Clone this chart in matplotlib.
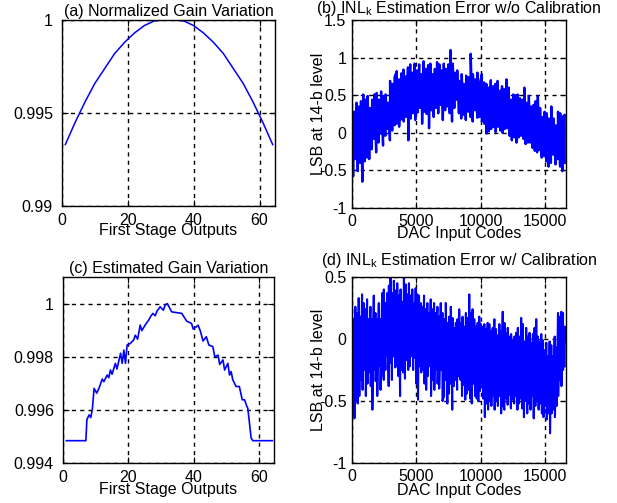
import numpy as np
import matplotlib
matplotlib.use("Agg")
import matplotlib.pyplot as plt
from matplotlib.ticker import FormatStrFormatter

plt.rcParams['font.family'] = ['Liberation Sans', 'DejaVu Sans']
plt.rcParams['mathtext.default'] = 'regular'
plt.rcParams['axes.unicode_minus'] = False

# (a) normalized gain vs first stage output
gain_a_x = [1, 4, 7, 10, 13, 16, 19, 22, 25, 28, 31, 34, 37, 40, 43, 46, 49, 52, 55, 58, 61, 64]
gain_a = [0.9933, 0.9945, 0.9956, 0.9966, 0.9974, 0.9982, 0.9988, 0.9993, 0.9997, 0.99995, 1.0,
          1.0, 0.99995, 0.9997, 0.9993, 0.9988, 0.9982, 0.9974, 0.9966, 0.9956, 0.9945, 0.9933]

# (c) estimated gain
gain_c_x = [1, 7, 7.3, 8, 8.5, 9, 9.5, 10.3, 11, 12, 12.5, 13.5, 14, 14.5, 15, 16, 16.5, 17.6, 18.1,
            18.6, 19.1, 19.6, 20.6, 21.6, 22.1, 22.8, 23.6, 24.1, 25.1, 26.2, 26.9, 27.5, 28.2, 28.7,
            29.7, 30.2, 30.7, 31.2, 31.9, 33.2, 34.7, 36.3, 37.8, 39.3, 39.8, 40.8, 41.3, 42, 42.8,
            43.8, 44.6, 45.8, 46.4, 47.4, 47.9, 48.9, 49.4, 50.4, 50.9, 51.4, 51.9, 52.9, 53.9, 54.8,
            55.5, 56.2, 56.5, 57.5, 58, 64]
gain_c = [0.99484, 0.99484, 0.99563, 0.99581, 0.99571, 0.99606, 0.99681, 0.99663, 0.99681, 0.99716,
          0.99706, 0.99731, 0.99721, 0.9975, 0.99734, 0.99775, 0.99754, 0.99813, 0.99775, 0.99825,
          0.99775, 0.99844, 0.9985, 0.99863, 0.99881, 0.99866, 0.99919, 0.99898, 0.99919, 0.99938,
          0.99954, 0.99963, 0.99954, 0.99971, 0.99988, 0.99981, 0.99975, 0.99994, 1.0, 0.99969,
          0.99966, 0.99963, 0.99934, 0.99925, 0.99904, 0.99913, 0.99919, 0.99896, 0.99859, 0.99875,
          0.99844, 0.99838, 0.998, 0.99806, 0.99771, 0.99788, 0.9975, 0.99775, 0.99731, 0.99744,
          0.99713, 0.99688, 0.99688, 0.99638, 0.99638, 0.99613, 0.99606, 0.99494, 0.99484, 0.99484]

# (b) INL error w/o calibration: spike tops and bottoms read left to right
inl_b_upper = [0.30, 0.28, 0.40, 0.35, 0.42, 0.51, 0.44, 0.49, 0.33, 0.44, 0.51, 0.53, 0.44, 0.55,
               0.49, 0.51, 0.40, 0.69, 0.65, 0.74, 0.82, 0.71, 0.79, 0.84, 0.75, 0.87, 0.91, 0.80,
               0.92, 0.83, 0.91, 0.78, 0.95, 0.85, 0.90, 0.92, 0.78, 0.85, 0.94, 0.91, 0.83, 0.92,
               0.85, 0.91, 1.10, 0.92, 0.80,
               0.83, 0.69, 0.78, 0.65, 0.76, 0.74, 1.05, 0.78, 0.71, 0.80, 0.65, 0.78, 0.67, 0.65,
               0.60, 0.70, 0.62, 0.65, 0.69, 0.56, 0.62, 0.58, 0.71, 0.60, 0.44, 0.51, 0.50, 0.51,
               0.46, 0.44, 0.60, 0.40, 0.49, 0.35, 0.37, 0.42, 0.49, 0.33, 0.21, 0.28, 0.26, 0.19,
               0.35, 0.19, 0.10, 0.28, 0.26, 0.21, 0.24]
inl_b_lower = [-0.58, -0.35, -0.51, -0.40, -0.65, -0.38, -0.33, -0.35, -0.22, -0.08, -0.26, -0.13,
               -0.01, -0.17, -0.04, 0.05, -0.10, 0.03, 0.10, 0.12, 0.08, 0.18, 0.15, 0.21, -0.10,
               0.19, 0.26, 0.17, 0.27, 0.33, 0.12, 0.28, 0.25, 0.06, 0.30, 0.21, 0.33, 0.26, 0.37,
               0.17, 0.30, 0.35, 0.26, 0.15, 0.33, 0.44, 0.26,
               0.19, 0.24, 0.17, 0.28, 0.21, 0.15, 0.30, 0.20, 0.21, 0.15, 0.12, -0.01, 0.02, 0.05,
               0.08, 0.01, 0.08, 0.03, 0.00, 0.05, 0.06, -0.04, -0.10, -0.06, -0.13, -0.06, -0.04,
               -0.08, -0.15, -0.13, -0.13, -0.20, -0.24, -0.26, -0.23, -0.33, -0.31, -0.38, -0.45,
               -0.40, -0.29, -0.42, -0.35, -0.45, -0.51, -0.40]

# (d) INL error w/ calibration
inl_d_upper = [0.32, 0.16, 0.26, 0.21, 0.33, 0.18, 0.36, 0.29, 0.24, 0.32, 0.16, 0.26, 0.16, 0.35,
               0.21, 0.16, 0.29, 0.16, 0.37, 0.40, 0.29, 0.37, 0.43, 0.51, 0.37, 0.47, 0.39, 0.45,
               0.35, 0.40, 0.30, 0.51, 0.44, 0.36, 0.45, 0.35, 0.40, 0.29, 0.41, 0.36, 0.35, 0.29,
               0.26, 0.35, 0.24, 0.29, 0.21, 0.32, 0.24, 0.29, 0.21, 0.26, 0.18, 0.29, 0.21, 0.16,
               0.29, 0.13, 0.18, 0.26, 0.17, 0.09, 0.13,
               0.16, 0.24, 0.13, 0.18, 0.10, 0.21, 0.17, 0.36, 0.21, 0.24, 0.16, 0.10, 0.13, 0.18,
               0.12, 0.10, 0.12, 0.08, 0.13, 0.12, 0.06, 0.09, 0.16, 0.08, 0.03, 0.12, 0.06, 0.22,
               0.13, 0.05, 0.09, 0.02, 0.04, -0.01, 0.02, 0.05, 0.09, 0.02, 0.17, 0.12, -0.02, 0.09,
               0.02, 0.05, -0.03, 0.04, 0.09, 0.16, 0.02, -0.02, 0.04, -0.01, -0.09, -0.03, -0.14,
               -0.02, -0.05, -0.14, 0.02, -0.07, 0.21, 0.18, 0.22, 0.21, 0.10]
inl_d_lower = [-0.58, -0.64, -0.50, -0.52, -0.46, -0.33, -0.41, -0.25, -0.46, -0.36, -0.27, -0.38,
               -0.57, -0.25, -0.34, -0.46, -0.22, -0.41, -0.17, -0.33, -0.25, -0.14, -0.38, -0.19,
               -0.33, -0.14, -0.23, -0.22, -0.30, -0.46, -0.25, -0.27, -0.32, -0.17, -0.25, -0.22,
               -0.14, -0.25, -0.15, -0.36, -0.49, -0.22, -0.27, -0.25, -0.36, -0.41, -0.30, -0.22,
               -0.46, -0.33, -0.41, -0.25, -0.36, -0.40, -0.25, -0.50, -0.46, -0.33, -0.52, -0.44,
               -0.36, -0.57, -0.38, -0.33, -0.41, -0.30,
               -0.33, -0.46, -0.37, -0.49, -0.44, -0.41, -0.48, -0.52, -0.36, -0.46, -0.48, -0.50,
               -0.42, -0.36, -0.48, -0.63, -0.52, -0.57, -0.50, -0.54, -0.46, -0.57, -0.50, -0.54,
               -0.46, -0.60, -0.52, -0.57, -0.48, -0.53, -0.45, -0.56, -0.49, -0.52, -0.46, -0.57,
               -0.52, -0.48, -0.56, -0.63, -0.50, -0.60, -0.52, -0.57, -0.46, -0.64, -0.54, -0.49,
               -0.57, -0.52, -0.60, -0.63, -0.54, -0.65, -0.60, -0.76, -0.60, -0.57, -0.63, -0.54,
               -0.46, -0.33, -0.38, -0.25, -0.22]

n_codes = 16500
fs = 11.5


def zigzag(upper, lower, xmax):
    # interleave spike tops and bottoms along the code axis
    xu = np.linspace(0, xmax, len(upper))
    xl = np.linspace(xmax / (2 * len(lower)), xmax, len(lower))
    x = np.concatenate([xu, xl])
    y = np.concatenate([upper, lower])
    order = np.argsort(x, kind='stable')
    return x[order], y[order]


def style(ax, xpad, ypad):
    ax.tick_params(direction='in', length=4, width=0.8, top=True, right=True,
                   labelsize=fs, colors='black')
    ax.tick_params(axis='x', pad=xpad)
    ax.tick_params(axis='y', pad=ypad)
    ax.grid(True, color='black', linestyle=(0, (3, 3)), linewidth=1.0)
    ax.set_axisbelow(True)
    for s in ax.spines.values():
        s.set_linewidth(1.0)


fig = plt.figure(figsize=(6.17, 5.03), dpi=100)
W, H = 617.0, 503.0


def add_axes(l, t, r, b):
    return fig.add_axes([l / W, 1 - b / H, (r - l) / W, (b - t) / H])


ax_a = add_axes(62, 20, 275, 206)
ax_b = add_axes(352, 20, 566, 208)
ax_c = add_axes(63, 277, 274, 463)
ax_d = add_axes(352, 277, 566, 463)

# (a)
ax_a.plot(gain_a_x, gain_a, color='blue', linewidth=1.1)
ax_a.set_xlim(0, 64.7)
ax_a.set_ylim(0.99, 1.0)
ax_a.set_xticks([0, 20, 40, 60])
ax_a.set_yticks([0.99, 0.995, 1.0])
ax_a.yaxis.set_major_formatter(FormatStrFormatter('%g'))
style(ax_a, 5, 6.5)
ax_a.text(0.5, 1.0215, '(a) Normalized Gain Variation', transform=ax_a.transAxes,
          ha='center', va='baseline', fontsize=fs)
ax_a.set_xlabel('First Stage Outputs', fontsize=fs, va='center')
ax_a.xaxis.set_label_coords(0.5, -0.134)

# (b)
xb, yb = zigzag(inl_b_upper, inl_b_lower, n_codes)
ax_b.plot(xb, yb, color='blue', linewidth=1.7)
ax_b.set_xlim(0, 16600)
ax_b.set_ylim(-1, 1.5)
ax_b.set_xticks([0, 5000, 10000, 15000])
ax_b.set_yticks([-1, -0.5, 0, 0.5, 1, 1.5])
ax_b.yaxis.set_major_formatter(FormatStrFormatter('%g'))
style(ax_b, 4, 4)
ax_b.text(0.5, 1.036, '(b) INL$_k$ Estimation Error w/o Calibration', transform=ax_b.transAxes,
          ha='center', va='baseline', fontsize=fs)
ax_b.set_xlabel('DAC Input Codes', fontsize=fs, va='center')
ax_b.xaxis.set_label_coords(0.5, -0.136)
ax_b.set_ylabel('LSB at 14-b level', fontsize=fs, va='center')
ax_b.yaxis.set_label_coords(-0.157, 0.5)

# (c)
ax_c.plot(gain_c_x, gain_c, color='blue', linewidth=1.2)
ax_c.set_xlim(0, 64.5)
ax_c.set_ylim(0.994, 1.001)
ax_c.set_xticks([0, 20, 40, 60])
ax_c.set_yticks([0.994, 0.996, 0.998, 1.0])
ax_c.yaxis.set_major_formatter(FormatStrFormatter('%g'))
style(ax_c, 5, 6.5)
ax_c.text(0.5, 1.0215, '(c) Estimated Gain Variation', transform=ax_c.transAxes,
          ha='center', va='baseline', fontsize=fs)
ax_c.set_xlabel('First Stage Outputs', fontsize=fs, va='center')
ax_c.xaxis.set_label_coords(0.5, -0.141)

# (d)
xd, yd = zigzag(inl_d_upper, inl_d_lower, n_codes)
ax_d.plot(xd, yd, color='blue', linewidth=1.5)
ax_d.set_xlim(0, 16600)
ax_d.set_ylim(-1, 0.5)
ax_d.set_xticks([0, 5000, 10000, 15000])
ax_d.set_yticks([-1, -0.5, 0, 0.5])
ax_d.yaxis.set_major_formatter(FormatStrFormatter('%g'))
style(ax_d, 4, 4)
ax_d.text(0.5, 1.062, '(d) INL$_k$ Estimation Error w/ Calibration', transform=ax_d.transAxes,
          ha='center', va='baseline', fontsize=fs)
ax_d.set_xlabel('DAC Input Codes', fontsize=fs, va='center')
ax_d.xaxis.set_label_coords(0.5, -0.147)
ax_d.set_ylabel('LSB at 14-b level', fontsize=fs, va='center')
ax_d.yaxis.set_label_coords(-0.156, 0.5)

fig.savefig('out.png', dpi=100)
